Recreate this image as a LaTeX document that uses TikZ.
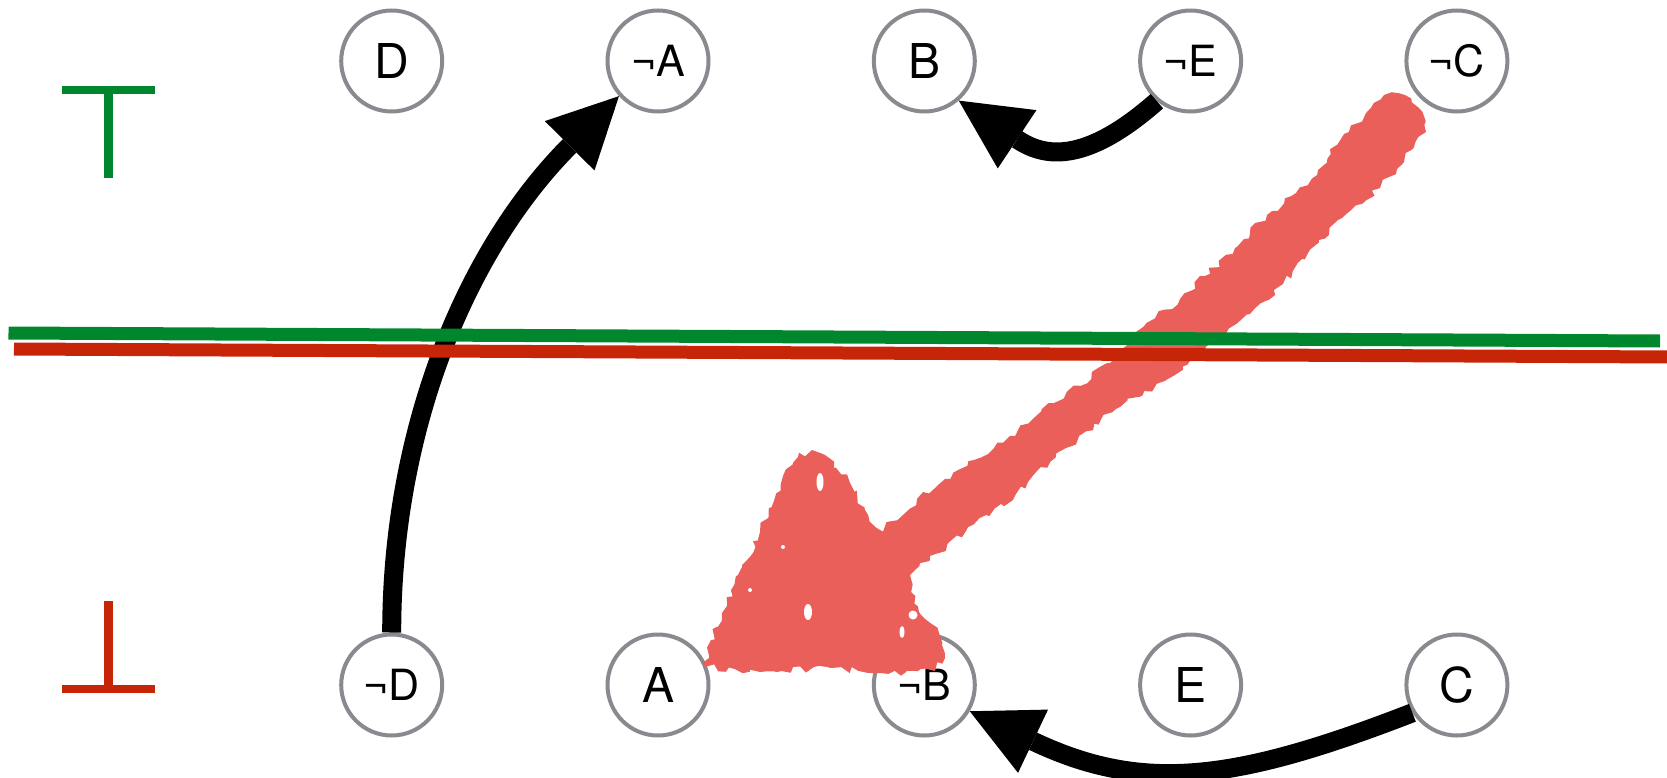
\documentclass[tikz,border=0pt]{standalone}
\usepackage{fontspec}
\setmainfont{TeX Gyre Heros}
\usetikzlibrary{arrows.meta,decorations.pathmorphing}
\definecolor{nodegray}{RGB}{137,138,143}
\definecolor{topgreen}{RGB}{0,135,45}
\definecolor{botred}{RGB}{199,37,8}
\definecolor{paint}{RGB}{235,95,90}
\tikzset{
  lit/.style={circle, draw=nodegray, line width=4pt, fill=white, minimum size=101pt, inner sep=0pt, font=\fontsize{48}{50}\selectfont},
  neglit/.style={lit, font=\fontsize{43}{45}\selectfont},
  implies/.style={line width=19pt, -{Triangle[length=70pt,width=70pt,line width=0pt]}},
  truthbar/.style={line width=8.5pt},
  divider/.style={line width=13pt},
  brush/.style={fill=paint, decorate, decoration={random steps, segment length=6pt, amplitude=3.5pt}},
  speck/.style={fill=white},
}
\begin{document}
\begin{tikzpicture}[x=1pt,y=-1pt]
\useasboundingbox (0,0) rectangle (1667,778);
\pgfmathsetseed{7}
% literals
\node[lit]    (D)  at (391.7,61)  {D};
\node[neglit] (nA) at (658,61)    {¬A};
\node[lit]    (B)  at (924.3,61)  {B};
\node[neglit] (nE) at (1190.6,61) {¬E};
\node[neglit] (nC) at (1456.9,61) {¬C};
\node[neglit] (nD) at (391.7,685) {¬D};
\node[lit]    (A)  at (658,685)   {A};
\node[neglit] (nB) at (924.3,685) {¬B};
\node[lit]    (E)  at (1190.6,685){E};
\node[lit]    (C)  at (1456.9,685){C};
% painted arrow
\path[brush] (1384,95) -- (1366,113) -- (1344,134) -- (1318,170) -- (1296,193) -- (1267,215)
  -- (1235,248) -- (1205,276) -- (1180,299) -- (1150,321) -- (1110,363) -- (1054,403)
  -- (1010,436) -- (945,479) -- (880,530)
  -- (865,510) -- (850,483) -- (825,455) -- (812,450) -- (798,457) -- (783,476)
  -- (760,532) -- (742,567) -- (722,613) -- (711,640) -- (705,667) -- (760,672)
  -- (830,668) -- (880,673) -- (935,671) -- (945,658) -- (939,633) -- (919,612) -- (910,575)
  -- (966,531) -- (1016,494) -- (1066,448) -- (1116,409) -- (1166,380) -- (1203,352)
  -- (1250,314) -- (1283,284) -- (1308,253) -- (1342,218) -- (1380,188) -- (1397,169)
  -- (1426,132) -- (1419,108) -- (1405,95) -- cycle;
\fill[speck] (820,482) ellipse [x radius=3.5pt, y radius=9pt];
\fill[speck] (808,612) ellipse [x radius=4pt, y radius=8pt];
\fill[speck] (913,615) circle [radius=4.5pt];
\fill[speck] (902,632) ellipse [x radius=2.5pt, y radius=6pt];
\fill[speck] (783,547) circle [radius=2pt];
\fill[speck] (750,590) circle [radius=2pt];
% implications
\draw[implies] (nD.north) .. controls +(0,-200) and +(-155,156) .. (nA.222);
\draw[implies] (nE.230) .. controls +(-75,66) and +(83,55) .. (B.-49);
\draw[implies] (C.212) .. controls +(-178,69) and +(173,82) .. (nB.-30);
% dividers
\draw[divider, topgreen] (8.5,333) -- (1660,341);
\draw[divider, botred] (14,349) -- (1672,357);
% top and bottom symbols
\draw[truthbar, topgreen] (62,90) -- (155,90);
\draw[truthbar, topgreen] (108.5,90) -- (108.5,178);
\draw[truthbar, botred] (108.5,601) -- (108.5,689);
\draw[truthbar, botred] (62,689) -- (155,689);
\end{tikzpicture}
\end{document}
